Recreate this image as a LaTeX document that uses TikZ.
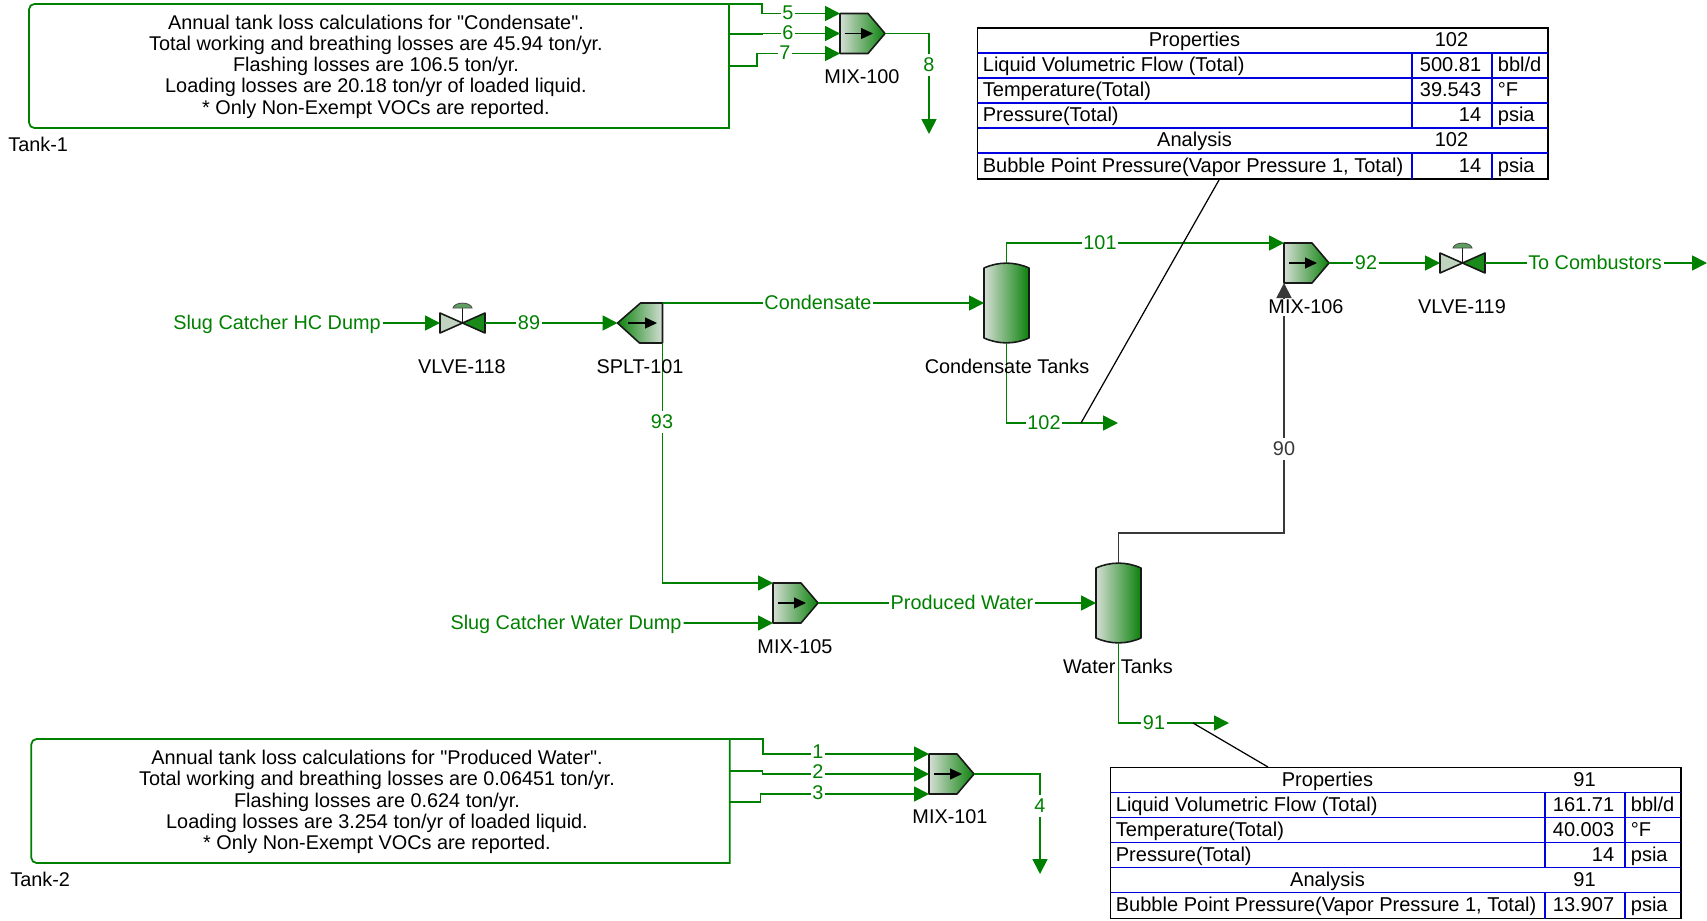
\documentclass[tikz,border=0pt]{standalone}
\usepackage{fontspec}
\setmainfont{Liberation Sans}
\newfontfamily\notefont{Liberation Sans}
\usetikzlibrary{arrows.meta, calc}

\definecolor{flowgreen}{HTML}{008000}
\definecolor{unitlight}{HTML}{D4DED4}
\definecolor{unitdark}{HTML}{0C820C}
\definecolor{valvelight}{HTML}{BFD3BF}
\definecolor{valvedark}{HTML}{1A8A1A}
\definecolor{valvecap}{HTML}{5FA05F}
\definecolor{recyclegrey}{HTML}{383838}
\definecolor{gridblue}{HTML}{0000E0}

\tikzset{
  flow/.style={draw=flowgreen, line width=1pt, ->},
  flowline/.style={draw=flowgreen, line width=1pt},
  greyflow/.style={draw=recyclegrey, line width=1pt, ->},
  callout/.style={draw=black, line width=0.7pt},
  unitbox/.style={inner sep=0pt, outer sep=0pt, minimum width=0.9cm, minimum height=0.8cm},
  valvebox/.style={inner sep=0pt, outer sep=0pt, minimum width=0.9cm, minimum height=0.4cm},
  tankbox/.style={inner sep=0pt, outer sep=0pt, minimum width=0.9cm, minimum height=1.6cm},
  unitline/.style={draw=black!90, line width=0.9pt, line join=round},
  pointer/.style={-{Triangle[length=2.4mm,width=2.2mm]}, draw=black, line width=0.7pt},
  tag/.style={text=black, inner sep=0pt, text height=8.7pt, text depth=1.5pt, font=\fontsize{11.3}{13}\selectfont},
  flowlabel/.style={text=flowgreen, fill=white, inner sep=1pt, text height=8.7pt, text depth=1.5pt, font=\fontsize{11.3}{13}\selectfont},
  notetext/.style={text=black, align=center, inner sep=0pt, font=\notefont\fontsize{11.3}{12.1}\selectfont},
  cell/.style={text=black, inner sep=0pt, text height=8.7pt, text depth=1.5pt, font=\fontsize{11.4}{13}\selectfont},
}

% mixer pointing right: name, x, y
\newcommand{\mixunit}[3]{%
  \node[unitbox] (#1) at (#2,#3) {};
  \draw[unitline, left color=unitlight, right color=unitdark] (#1.north west) -- ++(28,0) -- (#1.east) -- ++(-17,20) -- (#1.south west) -- cycle;
  \draw[pointer] (#2-17.5,#3) -- (#2+10.5,#3);
}
% splitter, tip on the left: name, x, y
\newcommand{\splitunit}[3]{%
  \node[unitbox] (#1) at (#2,#3) {};
  \draw[unitline, left color=unitdark, right color=unitlight] (#1.north east) -- ++(-22,0) -- (#1.west) -- ++(22,20) -- (#1.south east) -- cycle;
  \draw[pointer] (#2-12,#3) -- (#2+17,#3);
}
% storage tank: name, x, y
\newcommand{\tankunit}[3]{%
  \node[tankbox] (#1) at (#2,#3) {};
  \draw[unitline, left color=unitlight, right color=unitdark] (#2-22.5,#3-35) .. controls (#2-8,#3-41.5) and (#2+8,#3-41.5) .. (#2+22.5,#3-35) -- (#2+22.5,#3+35) .. controls (#2+8,#3+41.5) and (#2-8,#3+41.5) .. (#2-22.5,#3+35) -- cycle;
}
% control valve: name, x, y
\newcommand{\valveunit}[3]{%
  \node[valvebox] (#1) at (#2,#3) {};
  \draw[unitline, fill=valvelight] (#1.north west) -- (#1.center) -- (#1.south west) -- cycle;
  \draw[unitline, fill=valvedark] (#1.north east) -- (#1.center) -- (#1.south east) -- cycle;
  \draw[unitline] (#1.center) -- (#2,#3-15);
  \fill[valvecap, draw=black!70, line width=0.5pt] (#2-9.5,#3-15) .. controls (#2-8,#3-21.5) and (#2+8,#3-21.5) .. (#2+9.5,#3-15) -- cycle;
}
% stream table: name, x, y, stream, flow, temperature, bubble point
\newcommand{\proptable}[7]{%
  \begin{scope}[shift={(#2,#3)}]
    \node[anchor=north west, draw=black, line width=0.9pt, fill=white, inner sep=0pt, outer sep=0pt, minimum width=11.41cm, minimum height=3.02cm] (#1) at (0,0) {};
    \foreach \yy in {25,50,75,100,125}
      \draw[gridblue, line width=0.7pt] (0,\yy) -- (570.5,\yy);
    \foreach \xx in {434.5,514.5} {
      \draw[gridblue, line width=0.7pt] (\xx,25) -- (\xx,100);
      \draw[gridblue, line width=0.7pt] (\xx,125) -- (\xx,151);
    }
    \node[cell] (#1-a) at (217,12.5) {Properties};
    \node[cell] (#1-b) at (474,12.5) {#4};
    \node[cell] (#1-c) at (217,112.5) {Analysis};
    \node[cell] (#1-d) at (474,112.5) {#4};
    \foreach \rowi/\rowy/\rowtxt/\rowval/\rowunit in {
        1/37.5/{Liquid Volumetric Flow (Total)}/#5/bbl\slash d,
        2/62.5/{Temperature(Total)}/#6/°F,
        3/87.5/{Pressure(Total)}/14/psia,
        4/138/{Bubble Point Pressure(Vapor Pressure 1, Total)}/#7/psia} {
      \node[cell, anchor=west] (#1-t\rowi) at (5,\rowy) {\rowtxt};
      \node[cell, anchor=east] (#1-v\rowi) at (504,\rowy) {\rowval};
      \node[cell, anchor=west] (#1-u\rowi) at (520,\rowy) {\rowunit};
    }
  \end{scope}
}

\begin{document}
\begin{tikzpicture}[x=0.02cm, y=-0.02cm, >={Triangle[length=3mm,width=3mm]}]
  \useasboundingbox (0,0) rectangle (1707,920);

  % Tank-1 note
  \node[inner sep=0pt, outer sep=0pt, minimum width=14cm, minimum height=2.48cm] (tank1) at (379,66) {};
  \draw[flowline] (tank1.north east) [rounded corners=3pt] -- (tank1.north west) -- (tank1.south west) [sharp corners] -- (tank1.south east) -- cycle;
  \node[notetext] (tank1note) at (376,66.5) {Annual tank loss calculations for "Condensate".\\Total working and breathing losses are 45.94 ton/yr.\\Flashing losses are 106.5 ton/yr.\\Loading losses are 20.18 ton/yr of loaded liquid.\\* Only Non-Exempt VOCs are reported.};
  \node[tag, anchor=west] (tank1tag) at (8,145) {Tank-1};

  % Tank-2 note
  \node[inner sep=0pt, outer sep=0pt, minimum width=13.97cm, minimum height=2.48cm] (tank2) at (380.5,801) {};
  \draw[flowline] (tank2.north east) [rounded corners=3pt] -- (tank2.north west) -- (tank2.south west) [sharp corners] -- (tank2.south east) -- cycle;
  \node[notetext] (tank2note) at (377,802) {Annual tank loss calculations for "Produced Water".\\Total working and breathing losses are 0.06451 ton/yr.\\Flashing losses are 0.624 ton/yr.\\Loading losses are 3.254 ton/yr of loaded liquid.\\* Only Non-Exempt VOCs are reported.};
  \node[tag, anchor=west] (tank2tag) at (10,880) {Tank-2};

  % Units
  \mixunit{mix100}{862.5}{33.5}
  \mixunit{mix101}{951.5}{774}
  \mixunit{mix105}{795.5}{603}
  \mixunit{mix106}{1306.5}{263}
  \splitunit{splt101}{640}{323}
  \valveunit{vlve118}{462.5}{323}
  \valveunit{vlve119}{1462.5}{263}
  \tankunit{condtank}{1006.5}{303}
  \tankunit{watertank}{1118.5}{603}

  % Free ends and tap points
  \coordinate (t1a) at (729,34);
  \coordinate (t1b) at (729,66);
  \coordinate (t2a) at (729.5,771);
  \coordinate (t2b) at (729.5,802);
  \coordinate (end8) at (929,134);
  \coordinate (end4) at (1040,874);
  \coordinate (end102) at (1118,423);
  \coordinate (end91) at (1229,723);
  \coordinate (endcomb) at (1707,263);
  \coordinate (tap102) at (1081,423);
  \coordinate (tap91) at (1193,723);

  % Feeds
  \node[flowlabel, fill=none] (hcdump) at (277,323) {Slug Catcher HC Dump};
  \node[flowlabel, fill=none] (wdump) at (566,623) {Slug Catcher Water Dump};

  % Streams around MIX-100
  \draw[flow] (tank1.north east) -- ++(33,0) |- (mix100.north west);
  \draw[flow] (t1a) -- ++(33,0) |- (mix100.west);
  \draw[flow] (t1b) -- ++(28,0) |- (mix100.south west);
  \draw[flow] (mix100.east) -| (end8);

  % Streams around MIX-101
  \draw[flow] (tank2.north east) -- ++(33,0) |- (mix101.north west);
  \draw[flow] (t2a) -- ++(33,0) |- (mix101.west);
  \draw[flow] (t2b) -- ++(31,0) |- (mix101.south west);
  \draw[flow] (mix101.east) -| (end4);

  % Main train
  \draw[flow] (hcdump.east) -- (vlve118.west);
  \draw[flow] (vlve118.east) -- (splt101.west);
  \draw[flow] (splt101.north east) -- (condtank.west);
  \draw[flow] (splt101.south east) |- (mix105.north west);
  \draw[flow] (wdump.east) -- (mix105.south west);
  \draw[flow] (mix105.east) -- (watertank.west);
  \draw[flow] (condtank.north) |- (mix106.north west);
  \draw[flow] (condtank.south) |- (end102);
  \draw[flow] (watertank.south) |- (end91);
  \draw[flow] (mix106.east) -- (vlve119.west);
  \draw[flow] (vlve119.east) -- (endcomb);
  \draw[greyflow] (watertank.north) -- ++(0,-30) -| (mix106.south west);

  % Unit names
  \node[tag] (mix100tag) at (862,77) {MIX-100};
  \node[tag] (mix101tag) at (950,817) {MIX-101};
  \node[tag] (mix105tag) at (795,647) {MIX-105};
  \node[tag, fill=white] (mix106tag) at (1306,307.5) {MIX-106};
  \node[tag] (splt101tag) at (640,367) {SPLT-101};
  \node[tag] (vlve118tag) at (462,367) {VLVE-118};
  \node[tag] (vlve119tag) at (1462,307) {VLVE-119};
  \node[tag] (condtag) at (1007,367) {Condensate Tanks};
  \node[tag] (watertag) at (1118,667) {Water Tanks};

  % Stream names
  \node[flowlabel] (s5) at (788,13.5) {5};
  \node[flowlabel] (s6) at (788,33.5) {6};
  \node[flowlabel] (s7) at (785,53) {7};
  \node[flowlabel] (s8) at (929,65) {8};
  \node[flowlabel] (s1) at (818,752.5) {1};
  \node[flowlabel] (s2) at (818,772.5) {2};
  \node[flowlabel] (s3) at (818,793) {3};
  \node[flowlabel] (s4) at (1040,806) {4};
  \node[flowlabel] (s89) at (529,323) {89};
  \node[flowlabel] (s93) at (662,422) {93};
  \node[flowlabel] (scond) at (818,303) {Condensate};
  \node[flowlabel] (swater) at (962,603) {Produced Water};
  \node[flowlabel] (s101) at (1100,243) {101};
  \node[flowlabel] (s102) at (1044,423) {102};
  \node[flowlabel] (s91) at (1154,723) {91};
  \node[flowlabel] (s92) at (1366,263) {92};
  \node[flowlabel] (scomb) at (1595,263) {To Combustors};
  \node[flowlabel, text=recyclegrey] (s90) at (1284,449) {90};

  % Stream tables
  \proptable{tbl102}{977.5}{28}{102}{500.81}{39.543}{14}
  \proptable{tbl91}{1110.5}{767.5}{91}{161.71}{40.003}{13.907}
  \coordinate (foot102) at (1219,180);
  \coordinate (foot91) at (1268,767);
  \draw[callout] (tap102) -- (foot102);
  \draw[callout] (tap91) -- (foot91);
\end{tikzpicture}
\end{document}
